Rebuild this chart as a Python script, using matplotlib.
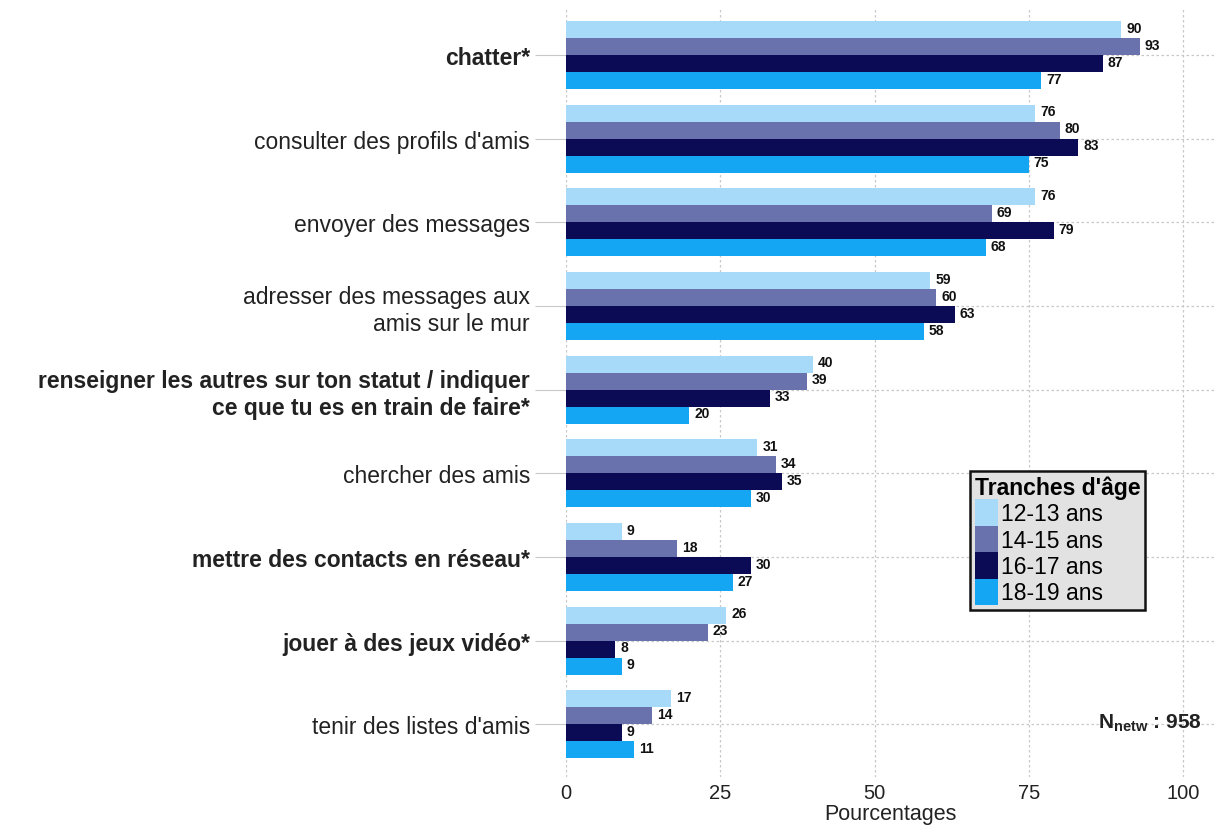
import matplotlib
matplotlib.use("Agg")
import matplotlib.pyplot as plt
import numpy as np
from matplotlib.patches import Patch

plt.rcParams['font.family'] = ['Liberation Sans', 'DejaVu Sans']

categories = [
    "chatter*",
    "consulter des profils d'amis",
    "envoyer des messages",
    "adresser des messages aux\namis sur le mur",
    "renseigner les autres sur ton statut / indiquer\nce que tu es en train de faire*",
    "chercher des amis",
    "mettre des contacts en réseau*",
    "jouer à des jeux vidéo*",
    "tenir des listes d'amis",
]
bold_cats = [True, False, False, False, True, False, True, True, False]

series_names = ["12-13 ans", "14-15 ans", "16-17 ans", "18-19 ans"]
v_12_13 = [90, 76, 76, 59, 40, 31, 9, 26, 17]
v_14_15 = [93, 80, 69, 60, 39, 34, 18, 23, 14]
v_16_17 = [87, 83, 79, 63, 33, 35, 30, 8, 9]
v_18_19 = [77, 75, 68, 58, 20, 30, 27, 9, 11]
series = [v_12_13, v_14_15, v_16_17, v_18_19]
colors = ["#a6daf8", "#6a72ae", "#0a0a55", "#14a6f2"]

xticks = [0, 25, 50, 75, 100]

fig = plt.figure(figsize=(12.23, 8.28), dpi=100)
ax = fig.add_axes([0.4628, 0.0604, 0.9927 - 0.4628, 0.990 - 0.0604])

y = np.arange(len(categories))
h = 0.203
offsets = [-1.5 * h, -0.5 * h, 0.5 * h, 1.5 * h]
for vals, col, off, name in zip(series, colors, offsets, series_names):
    bars = ax.barh(y + off, vals, height=h, color=col, label=name, zorder=2)
    for b, v in zip(bars, vals):
        ax.text(b.get_width() + 0.8, b.get_y() + b.get_height() / 2 - 0.02, str(v),
                ha='left', va='center', fontsize=10, fontweight='bold', color='#111111', zorder=3)

ax.set_xlim(0, 105)
ax.set_ylim(8.63, -0.57)
ax.set_yticks(y)
ax.set_yticklabels(categories, fontsize=16.5, color='#222222')
for lbl, b in zip(ax.get_yticklabels(), bold_cats):
    if b:
        lbl.set_fontweight('bold')
ax.set_xticks(xticks)
ax.set_xticklabels([str(t) for t in xticks], fontsize=14.5, color='#222222')
ax.tick_params(axis='y', length=22, width=0.8, color='#c8c8c8', pad=4)
ax.tick_params(axis='x', length=0, pad=4)
ax.set_xlabel("Pourcentages", fontsize=15.5, color='#222222', labelpad=1)

for s in ax.spines.values():
    s.set_visible(False)

ax.grid(True, axis='both', color='#c8c8c8', linestyle=(0, (2, 2)), linewidth=0.9, zorder=0)
ax.set_axisbelow(True)

handles = [Patch(facecolor=c, edgecolor='none') for c in colors]
leg = ax.legend(handles, series_names, title="Tranches d'âge", loc='upper left',
                bbox_to_anchor=((970 - 566) / (1214 - 566), 1 - (472 - 8) / (778 - 8)),
                fontsize=16.5, title_fontproperties={'weight': 'bold', 'size': 16.5},
                frameon=True, fancybox=False, framealpha=1, facecolor='#e2e2e2',
                edgecolor='#111111', handlelength=1.0, handleheight=1.4,
                handletextpad=0.15, labelspacing=0.0, borderpad=0.2,
                borderaxespad=0, alignment='left')
leg.get_frame().set_linewidth(1.8)
leg.set_zorder(5)

ax.text(0.981, 1 - (723 - 8) / (778 - 8), r"N$_{\mathregular{netw}}$ : 958", transform=ax.transAxes,
        ha='right', va='center', fontsize=15, fontweight='bold', color='#222222')

fig.savefig("out.png", dpi=100)
